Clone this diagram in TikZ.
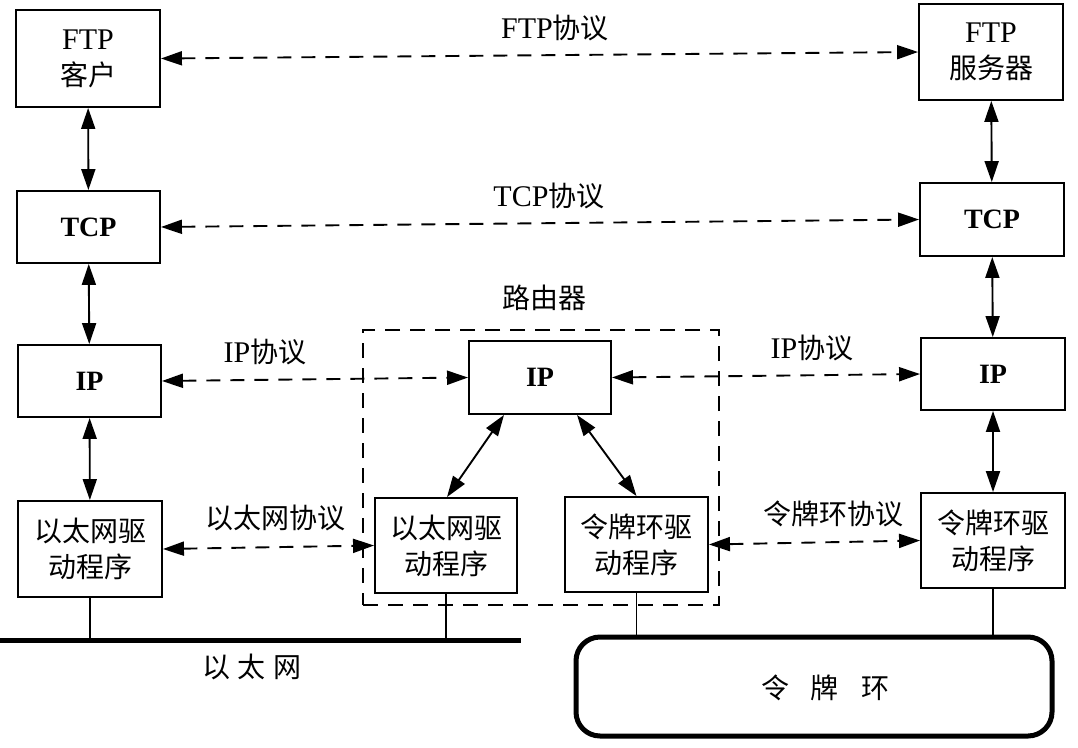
\documentclass[tikz,border=0pt]{standalone}
\usepackage{fontspec}
\setmainfont{Liberation Serif}
\newfontfamily\cjk{Noto Sans CJK SC}
\usetikzlibrary{arrows.meta,calc}
\begin{document}
\begin{tikzpicture}[x=1pt,y=-1pt,
  box/.style={draw, line width=1.9pt, inner sep=0pt, align=center,
    font=\fontsize{28}{36}\selectfont},
  bld/.style={font=\fontsize{28}{30}\selectfont\bfseries},
  zh/.style={font=\fontsize{28}{36}\selectfont\cjk},
  link/.style={line width=1.9pt, {Triangle[length=21pt,width=14pt]}-{Triangle[length=21pt,width=14pt]}},
  proto/.style={link, dash pattern=on 14pt off 10pt},
  stem/.style={line width=1.7pt},
  lbl/.style={inner sep=0pt, font=\fontsize{28}{36}\selectfont}
]
\useasboundingbox (0,0) rectangle (1078,747);

% left host
\node[box, minimum width=144pt, minimum height=97pt] (ftpc) at (88,58.5)
  {{\fontsize{30}{36}\selectfont FTP}\\{\cjk 客户}};
\node[box, minimum width=143pt, minimum height=72pt, bld] (tcpl) at (88.5,227) {TCP};
\node[box, minimum width=143pt, minimum height=72pt, bld] (ipl) at (89.5,381) {IP};
\node[box, minimum width=144pt, minimum height=96pt, zh] (ethl) at (90,549) {以太网驱\\动程序};

% right host
\node[box, minimum width=144pt, minimum height=96pt] (ftps) at (991,52)
  {{\fontsize{30}{36}\selectfont FTP}\\{\cjk 服务器}};
\node[box, minimum width=144pt, minimum height=73pt, bld] (tcpr) at (992,219.5) {TCP};
\node[box, minimum width=144pt, minimum height=72pt, bld] (ipr) at (993,374) {IP};
\node[box, minimum width=144pt, minimum height=95pt, zh] (tokr) at (993,540.5) {令牌环驱\\动程序};

% router
\node[draw, line width=1.9pt, dash pattern=on 15pt off 10pt, minimum width=356pt,
  minimum height=275pt, inner sep=0pt] (router) at (541,467.5) {};
\node[lbl, zh] (routerlbl) at (544,298) {路由器};
\node[box, minimum width=142pt, minimum height=73pt, bld] (ipm) at (540,377.5) {IP};
\node[box, minimum width=142pt, minimum height=95pt, zh] (ethm) at (446,545.5) {以太网驱\\动程序};
\node[box, minimum width=143pt, minimum height=95pt, zh] (tokm) at (636.5,544.5) {令牌环驱\\动程序};

% networks
\coordinate (e1) at (0,640);
\coordinate (e2) at (521,640);
\draw[line width=5pt] (e1) -- (e2);
\node[lbl, zh] (ethlbl) at (252,667) {以\hspace{8pt}太\hspace{8pt}网};
\node[draw, line width=5pt, rounded corners=24pt, minimum width=476pt,
  minimum height=99pt, inner sep=0pt] (ring) at (814,686.5) {};
\node[lbl, zh] (ringlbl) at (825,688) {令\hspace{22pt}牌\hspace{22pt}环};

% protocol labels
\node[lbl] (lftp) at (555,28) {{\fontsize{30}{36}\selectfont FTP}{\cjk 协议}};
\node[lbl] (ltcp) at (549,196) {{\fontsize{30}{36}\selectfont TCP}{\cjk 协议}};
\node[lbl] (lip1) at (265,352) {{\fontsize{30}{36}\selectfont IP}{\cjk 协议}};
\node[lbl] (lip2) at (812,348) {{\fontsize{30}{36}\selectfont IP}{\cjk 协议}};
\node[lbl, zh] (leth) at (275,518) {以太网协议};
\node[lbl, zh] (ltok) at (833,514) {令牌环协议};

% vertical links
\draw[link] (ftpc) -- (tcpl);
\draw[link] (tcpl) -- (ipl);
\draw[link] (ipl) -- (ethl);
\draw[link] (ftps) -- (tcpr);
\draw[link] (tcpr) -- (ipr);
\draw[link] (ipr) -- (tokr);
\draw[link] ($(ipm.south)+(-36,0)$) -- ($(ethm.north)+(1,0)$);
\draw[link] ($(ipm.south)+(37,0)$) -- ($(tokm.north)+(0,0)$);

% peer protocols
\draw[proto] (ftpc.east) -- (ftps.west);
\draw[proto] (tcpl.east) -- (tcpr.west);
\draw[proto] (ipl.east) -- (ipm.west);
\draw[proto] (ipm.east) -- (ipr.west);
\draw[proto] (ethl.east) -- (ethm.west);
\draw[proto] (tokm.east) -- (tokr.west);

% attachments
\draw[stem] (ethl.south) -- (ethl.south |- e1);
\draw[stem] (ethm.south) -- (ethm.south |- e1);
\draw[stem] (tokm.south) -- (tokm.south |- ring.north);
\draw[stem] (tokr.south) -- (tokr.south |- ring.north);
\end{tikzpicture}
\end{document}
